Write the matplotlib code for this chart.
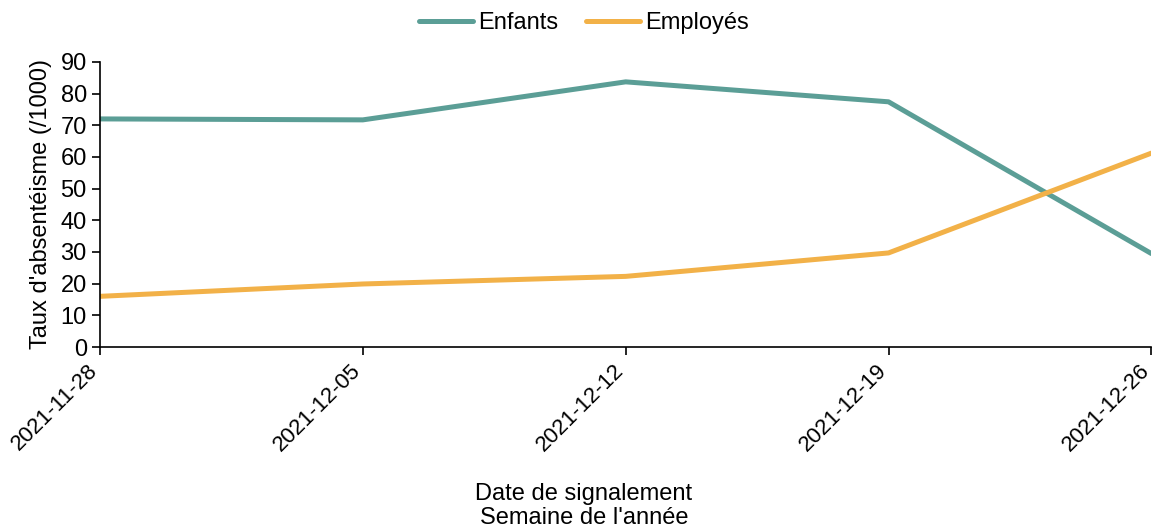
import matplotlib
matplotlib.use('Agg')
import matplotlib.pyplot as plt
from matplotlib.transforms import ScaledTranslation

plt.rcParams['font.family'] = ['Liberation Sans', 'DejaVu Sans']

dates = ['2021-11-28', '2021-12-05', '2021-12-12', '2021-12-19', '2021-12-26']
enfants = [72.0, 71.7, 83.7, 77.4, 29.5]
employes = [16.0, 19.9, 22.3, 29.7, 61.2]

fig = plt.figure(figsize=(11.56, 5.29), dpi=100)
ax = fig.add_axes([0.0865, 0.344, 0.9095, 0.539])

x = range(len(dates))
ax.plot(x, enfants, color='#5B9E96', lw=3.6, label='Enfants', solid_capstyle='round')
ax.plot(x, employes, color='#F2B148', lw=3.6, label='Employés', solid_capstyle='round')

ax.set_xlim(0, len(dates) - 1)
ax.set_ylim(0, 90)
ax.set_yticks(range(0, 91, 10))
ax.set_xticks(list(x))
ax.set_xticklabels(dates, rotation=45, ha='right', va='center', rotation_mode='anchor')
ax.tick_params(labelsize=17, length=6, width=1.2, colors='black')
ax.tick_params(axis='x', labelsize=16, pad=9)
shift = ScaledTranslation(-5 / 100, 0, fig.dpi_scale_trans)
for lab in ax.get_xticklabels():
    lab.set_transform(lab.get_transform() + shift)
for s in ['top', 'right']:
    ax.spines[s].set_visible(False)
for s in ['left', 'bottom']:
    ax.spines[s].set_linewidth(1.2)
ax.set_ylabel("Taux d'absentéisme (/1000)", fontsize=17, labelpad=6)

fig.text(0.505, 1 - 506 / 529, "Date de signalement\nSemaine de l'année", fontsize=17,
         ha='center', va='center', linespacing=1.1)

ax.legend(loc='center', bbox_to_anchor=(0.505, 1 - 23 / 529), bbox_transform=fig.transFigure,
          ncol=2, frameon=False, fontsize=17, handlelength=2.3, handletextpad=0.2,
          columnspacing=1.2, borderaxespad=0)

fig.savefig('out.png', dpi=100)
